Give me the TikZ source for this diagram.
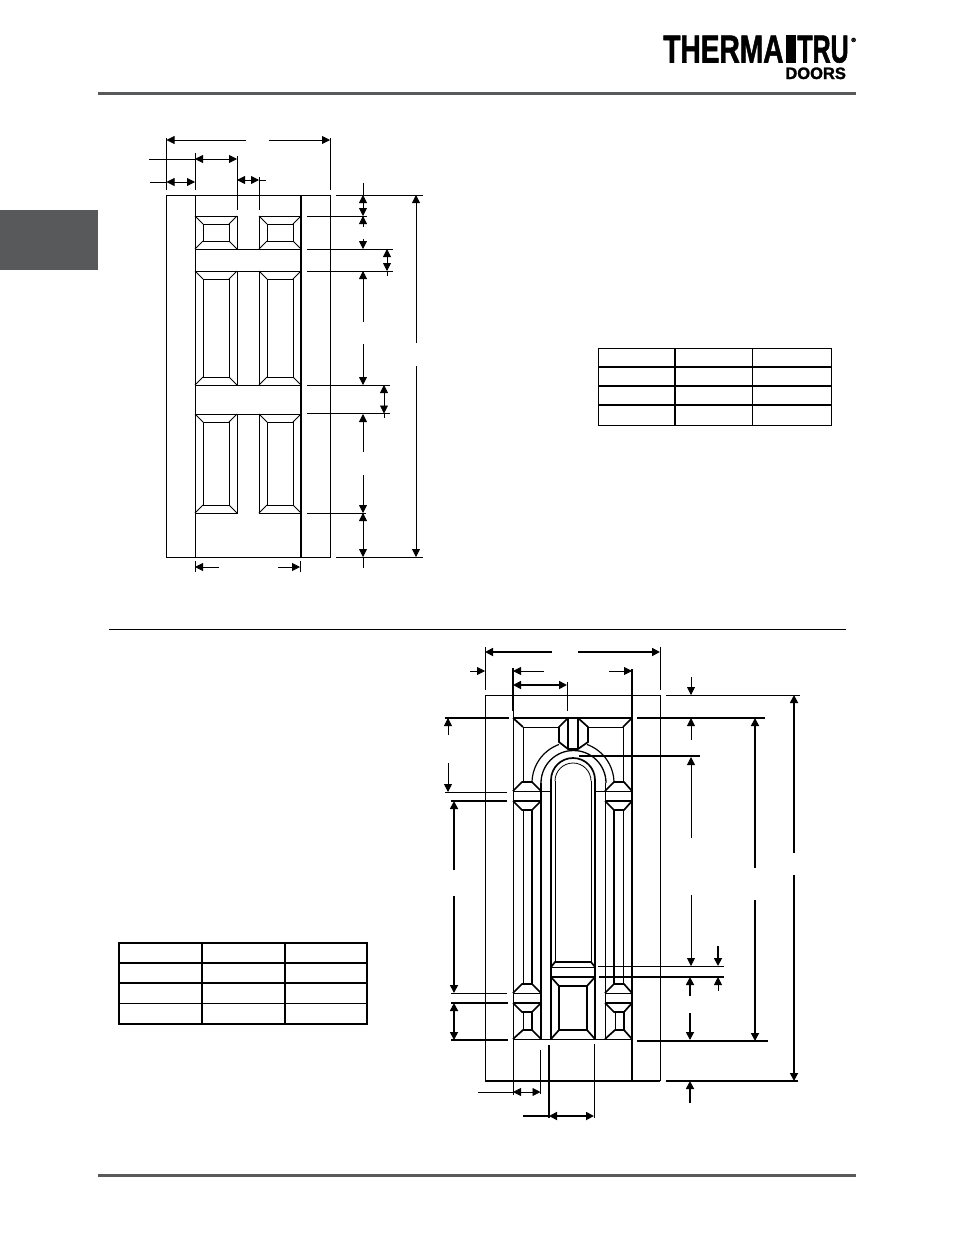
\documentclass[tikz,border=0pt]{standalone}
\usepackage{fontspec}
\setmainfont{Liberation Sans}
\newfontfamily\logofont{Liberation Sans}[BoldFeatures={FakeBold=1.6}]
\usetikzlibrary{arrows.meta}
\definecolor{bargray}{HTML}{58595B}
\tikzset{
  thinline/.style={line width=.8pt},
  thickline/.style={line width=1.7pt},
  tipone/.style={-{Triangle[length=8pt,width=8pt]}},
  tiptwo/.style={{Triangle[length=8pt,width=8pt]}-{Triangle[length=8pt,width=8pt]}},
  logotext/.style={inner sep=0pt,anchor=base west,font=\logofont\bfseries}
}
% raised panel: corners, then the inset of the field
\newcommand{\raisedpanel}[5]{
  \draw (#1,#2) rectangle (#3,#4);
  \draw (#1+#5,#2+#5) rectangle (#3-#5,#4-#5);
  \draw (#1,#2) -- (#1+#5,#2+#5);
  \draw (#3,#2) -- (#3-#5,#2+#5);
  \draw (#1,#4) -- (#1+#5,#4-#5);
  \draw (#3,#4) -- (#3-#5,#4-#5);
}
% flat octagon of the narrow columns
\newcommand{\octagon}[3]{
  \begin{scope}[xshift=#1pt,yshift=-#2pt]
    \draw[thickline] (0,9) -- (9,0) -- (19,0) -- (#3,9);
    \draw[thickline] (0,19) -- (9,28) -- (19,28) -- (#3,19);
    \draw[thinline] (0,9) -- (#3,9);
    \draw[thickline] (0,19) -- (#3,19);
  \end{scope}
}
\begin{document}
\begin{tikzpicture}[x=1pt,y=-1pt,thinline]
  \useasboundingbox (0,0) rectangle (954,1235);

  % page furniture
  \fill[bargray] (98,92) rectangle (856,95);
  \fill[bargray] (98,1174) rectangle (856,1177);
  \fill[bargray] (0,210) rectangle (98,270);
  \draw (109,629.5) -- (846,629.5);

  % logo
  \node[logotext] (therma) at (663,62.5) {\fontsize{39}{39}\selectfont\scalebox{.72}[1]{THERMA}};
  \fill (786,35) rectangle (796,62.5);
  \node[logotext] (tru) at (797,62.5) {\fontsize{39}{39}\selectfont\scalebox{.64}[1]{TRU}};
  \node[logotext] (reg) at (851,42) {\fontsize{6}{6}\selectfont ®};
  \node[logotext] (doors) at (785,79) {\fontsize{16.5}{16.5}\selectfont DOORS};

  % first door
  \draw (166.5,195) rectangle (330,557);
  \draw (195,195) -- (195,557);
  \draw[thickline] (301,195) -- (301,557);
  \draw (195,249) -- (301,249) (195,271) -- (301,271);
  \draw (195,385) -- (301,385) (195,414) -- (301,414);
  \foreach \colx in {195,259} {
    \raisedpanel{\colx}{216}{\colx+42}{249}{8}
    \raisedpanel{\colx}{271}{\colx+42}{385}{8}
    \raisedpanel{\colx}{414}{\colx+42}{513}{8}
  }

  % first door, widths
  \draw (166.5,138) -- (166.5,190) (330,138) -- (330,190);
  \draw (195,153) -- (195,190) (237,156) -- (237,210) (259,177) -- (259,210);
  \draw[tipone] (246,140) -- (166.5,140);
  \draw[tipone] (269,140) -- (330,140);
  \draw (149,159) -- (195,159);
  \draw[tiptwo] (195,159) -- (237,159);
  \draw[tiptwo] (237,180) -- (259,180);
  \draw (259,180) -- (266,180);
  \draw (150,182) -- (166.5,182);
  \draw[tiptwo] (166.5,182) -- (195,182);
  \draw (195,561) -- (195,572) (300,561) -- (300,572);
  \draw[tipone] (219,567) -- (195,567);
  \draw[tipone] (278,567) -- (300,567);

  % first door, heights
  \draw (336,195) -- (423,195) (336,557) -- (423,557);
  \draw (307,216) -- (367,216) (307,513) -- (366,513);
  \draw (307,249) -- (393,249) (307,271) -- (393,271);
  \draw (307,385) -- (390,385) (307,413.5) -- (390,413.5);
  \draw (363,183) -- (363,195);
  \draw[tiptwo] (363,195) -- (363,216);
  \draw[tipone] (363,227) -- (363,216);
  \draw[tipone] (363,239) -- (363,249);
  \draw[tipone] (363,322) -- (363,271);
  \draw[tipone] (363,344) -- (363,385);
  \draw[tipone] (363,452) -- (363,414);
  \draw[tipone] (363,475) -- (363,513);
  \draw[tiptwo] (363,513) -- (363,557);
  \draw (363,557) -- (363,568);
  \draw[tiptwo] (387,249) -- (387,271);
  \draw (387,271) -- (387,276);
  \draw[tiptwo] (384,385) -- (384,413.5);
  \draw (384,413.5) -- (384,418);
  \draw[tipone] (416,343) -- (416,195);
  \draw[tipone] (416,366) -- (416,557);

  % first table
  \draw (598,348.5) rectangle (831,425);
  \draw (752.5,348.5) -- (752.5,425);
  \draw[thickline] (675,348.5) -- (675,425);
  \foreach \rowy in {367,386,405} {
    \draw[thickline] (598,\rowy) -- (831,\rowy);
  }

  % second door
  \draw (485,695) -- (660,695) -- (660,1081);
  \draw (485,695) -- (485,1081);
  \draw[thickline] (485,1081) -- (660,1081);
  \draw (513,711) -- (513,1095);
  \draw[thickline] (513,668) -- (513,711);
  \draw[thickline] (632,669) -- (632,1081);
  \draw (513,1039) -- (632,1039);
  \draw[thickline] (513,718) -- (632,718);

  % second door, top corners and medallion
  \draw[thickline] (513,718) -- (523,727) (632,718) -- (623,727);
  \draw (523,727) -- (559,727) (588,727) -- (623,727);
  \draw (523,727) -- (523,782) (623,727) -- (623,782);
  \draw[thickline] (568,718) -- (559,727) -- (559,742) -- (568,749) -- (578,749)
    -- (588,742) -- (588,727) -- (578,718);
  \draw[thickline] (568,718) -- (568,749) (578,718) -- (578,749);

  % second door, arches
  \draw[line width=1.2pt] (532,783) arc[start angle=180,end angle=250,radius=41];
  \draw[line width=1.2pt] (614,783) arc[start angle=0,end angle=-70,radius=41];
  \draw[line width=1.3pt] (541,783) arc[start angle=180,end angle=360,radius=32.5];
  \draw[thickline] (551,780) arc[start angle=180,end angle=360,radius=22];
  \draw (555,781) arc[start angle=180,end angle=360,radius=18];

  % second door, columns
  \octagon{513}{782}{28}
  \octagon{605}{782}{27}
  \octagon{513}{984}{28}
  \octagon{605}{984}{27}
  \draw (541,791.5) -- (551,791.5) (595,791.5) -- (605,791.5);
  \draw[thickline] (541,783) -- (541,1039) (551,780) -- (551,1039);
  \draw[thickline] (595,780) -- (595,1039) (605.5,783) -- (605.5,1039);
  \draw[thickline] (532,810) -- (532,984) (614,810) -- (614,984);
  \draw (523,810) -- (523,984) (623,810) -- (623,984);
  \draw (555,781) -- (555,962) (591,781) -- (591,962);
  \foreach \colx/\endx in {513/541,605/632} {
    \draw[thickline] (\colx,1039) -- (\colx+10,1030) -- (\colx+19,1030) -- (\endx,1039);
    \draw (\colx+10,1012) -- (\colx+10,1030);
    \draw[thickline] (\colx+19,1012) -- (\colx+19,1030);
  }

  % second door, lower centre panel
  \draw[thickline] (551,967) -- (555,962) -- (591,962) -- (595,967);
  \draw (551,967) -- (595,967);
  \draw[thickline] (551,977) -- (595,977);
  \draw[thickline] (559,986) rectangle (587,1030);
  \draw[thickline] (551,977) -- (559,986) (595,977) -- (587,986);
  \draw[thickline] (551,1039) -- (559,1030) (595,1039) -- (587,1030);

  % second door, widths
  \draw (485,647) -- (485,690) (660,647) -- (660,690);
  \draw[thickline,tipone] (552,652) -- (485,652);
  \draw[thickline,tipone] (578,652) -- (660,652);
  \draw[tipone] (470,671) -- (485,671);
  \draw[tipone] (544,671) -- (513,671);
  \draw[tipone] (609,671) -- (632,671);
  \draw[thickline,tiptwo] (513,685) -- (567,685);
  \draw (567,682) -- (567,711);
  \draw (540.5,1050) -- (540.5,1094);
  \draw (478,1092) -- (513,1092);
  \draw[tiptwo] (513,1092) -- (540.5,1092);
  \draw[thickline] (549,1045) -- (549,1118);
  \draw (594,1044) -- (594,1118);
  \draw[thickline] (523,1116) -- (549,1116);
  \draw[thickline,tiptwo] (549,1116) -- (594,1116);

  % second door, heights left
  \draw[thickline] (445,718) -- (509,718);
  \draw (445,792) -- (507,792) (451,993) -- (507,993);
  \draw[thickline] (451,801) -- (507,801) (451,1003) -- (508,1003);
  \draw[thickline] (451,1040) -- (508,1040);
  \draw[tipone] (448,735) -- (448,718);
  \draw[tipone] (448,763) -- (448,792);
  \draw[thickline,tipone] (454,870) -- (454,801);
  \draw[thickline,tipone] (454,896) -- (454,993);
  \draw[thickline,tiptwo] (454,1003) -- (454,1040);

  % second door, heights right
  \draw (666,695) -- (800,695);
  \draw[thickline] (637,718) -- (765,718);
  \draw[thickline] (579,756) -- (700,756);
  \draw (598,966.5) -- (724,966.5);
  \draw[thickline] (599,977) -- (724,977);
  \draw[thickline] (637,1041) -- (768,1041);
  \draw[thickline] (666,1081) -- (798,1081);
  \draw[tipone] (691,677) -- (691,695);
  \draw[tipone] (691,740) -- (691,718);
  \draw[tipone] (691,838) -- (691,757);
  \draw[tipone] (691,895) -- (691,966);
  \draw[thickline,tipone] (690,996) -- (690,977);
  \draw[thickline,tipone] (690,1013) -- (690,1040);
  \draw[thickline,tipone] (690,1103) -- (690,1081);
  \draw[thickline,tipone] (718,946) -- (718,966);
  \draw[tipone] (718,991) -- (718,977);
  \draw[thickline,tipone] (755,868) -- (755,718);
  \draw[thickline,tipone] (755,900) -- (755,1041);
  \draw[thickline,tipone] (794,853) -- (794,695);
  \draw[thickline,tipone] (794,875) -- (794,1081);

  % second table
  \draw[thickline] (119,943) rectangle (367,1024);
  \draw[thickline] (202,943) -- (202,1024) (285,943) -- (285,1024);
  \draw[thickline] (119,963) -- (367,963) (119,983) -- (367,983);
  \draw (119,1003) -- (367,1003);
\end{tikzpicture}
\end{document}
